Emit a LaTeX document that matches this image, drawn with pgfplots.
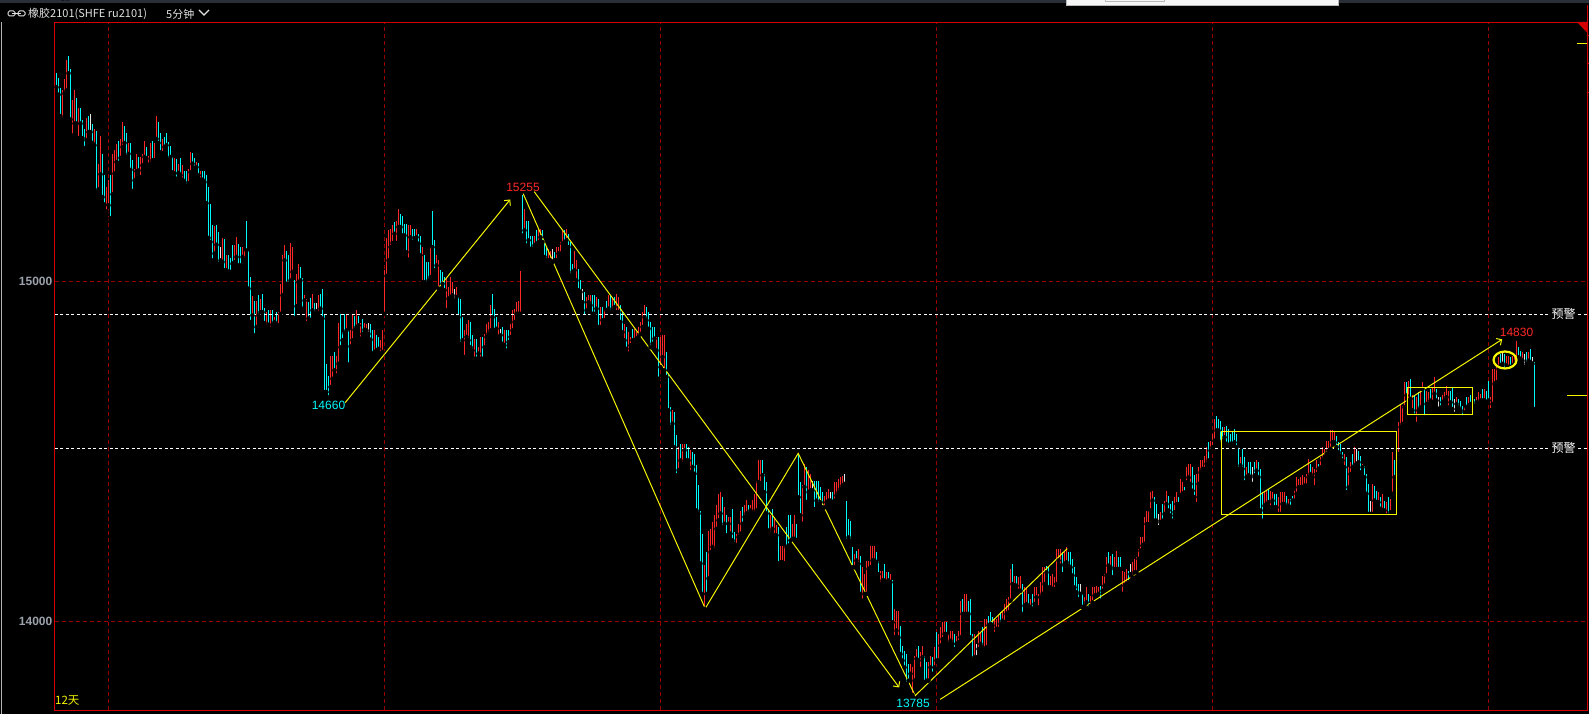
\documentclass[border=0pt]{standalone}
\usepackage{pgfplots}
\pgfplotsset{compat=1.18}
\usepackage{pgfplotstable}
\usetikzlibrary{arrows.meta}
\usepackage{fontspec}
\setmainfont{Liberation Sans}
\newfontfamily\cjk{Noto Sans CJK SC}
\definecolor{upred}{RGB}{255,40,40}
\definecolor{dncyan}{RGB}{0,250,250}
\definecolor{flatwhite}{RGB}{230,230,230}
\definecolor{gridred}{RGB}{150,0,0}
\definecolor{framered}{RGB}{210,0,0}
\definecolor{lineyellow}{RGB}{245,245,0}
\definecolor{ticktext}{RGB}{155,162,172}
\definecolor{titlegray}{RGB}{225,225,225}
\definecolor{topbar}{RGB}{42,46,54}
\pgfplotstableread{
l h c
15571 15613 1
15549 15599 1
15486 15569 1
15476 15564 0
15552 15596 0
15561 15650 0
15612 15664 1
15476 15625 1
15429 15532 0
15464 15564 0
15464 15540 1
15421 15511 0
15464 15511 1
15421 15476 1
15392 15447 1
15415 15481 0
15439 15485 1
15439 15491 2
15407 15464 1
15400 15447 0
15263 15441 1
15271 15346 0
15315 15429 0
15248 15375 1
15226 15312 1
15206 15279 0
15224 15297 0
15186 15312 1
15256 15375 0
15317 15387 0
15351 15405 0
15348 15413 1
15363 15419 0
15395 15470 0
15407 15456 1
15366 15436 1
15375 15407 0
15328 15407 1
15266 15356 1
15297 15331 0
15324 15375 0
15326 15366 1
15307 15367 0
15341 15375 0
15366 15412 0
15361 15395 1
15343 15370 0
15346 15407 0
15356 15412 1
15356 15407 0
15419 15485 0
15407 15470 1
15380 15436 1
15377 15419 0
15395 15426 1
15400 15436 1
15358 15410 1
15366 15398 1
15321 15366 1
15317 15364 0
15302 15361 1
15319 15346 0
15312 15364 1
15299 15341 0
15292 15326 1
15280 15326 1
15289 15331 0
15321 15380 0
15346 15377 1
15334 15364 1
15336 15351 0
15312 15348 1
15299 15326 0
15299 15326 1
15292 15326 1
15230 15312 1
15128 15277 1
15116 15228 1
15062 15165 1
15082 15162 0
15108 15165 1
15052 15145 1
15062 15101 2
15057 15128 0
15033 15126 1
15033 15079 0
15028 15079 1
15028 15070 1
15052 15106 1
15057 15106 0
15072 15130 0
15047 15111 1
15047 15101 1
15072 15101 0
15064 15094 0
15091 15177 1
14979 15091 1
14881 15013 1
14900 14956 0
14842 14944 1
14866 14942 0
14900 14959 1
14910 14949 0
14910 14964 1
14878 14923 1
14866 14910 0
14873 14915 1
14861 14915 0
14873 14915 1
14881 14895 0
14873 14910 1
14871 14910 0
14905 14993 0
14959 15077 0
15062 15106 0
14993 15091 1
14993 15077 1
15003 15114 0
15028 15101 0
14893 15005 1
14927 15023 0
14998 15050 0
15003 15044 1
14920 15010 1
14944 14959 0
14878 14949 0
14891 14940 1
14886 14951 1
14915 14964 0
14905 14937 1
14912 14937 2
14905 14959 0
14920 14964 1
14891 14977 1
14675 14905 1
14675 14758 1
14660 14721 1
14690 14780 0
14714 14780 0
14739 14793 1
14724 14780 0
14758 14878 0
14807 14905 1
14827 14851 1
14848 14905 1
14856 14905 0
14756 14858 1
14809 14858 0
14827 14905 0
14858 14900 1
14866 14915 0
14871 14900 1
14832 14878 0
14846 14891 1
14858 14878 0
14856 14876 0
14846 14878 2
14829 14876 1
14788 14856 1
14793 14858 0
14797 14842 1
14802 14837 1
14788 14829 0
14793 14856 0
14905 15033 0
15016 15128 0
15062 15150 0
15101 15155 0
15113 15167 0
15140 15175 1
15113 15177 0
15160 15212 0
15160 15199 1
15135 15191 1
15135 15170 1
15086 15170 1
15064 15165 0
15130 15165 0
15116 15155 1
15126 15155 1
15130 15155 0
15111 15140 1
15077 15135 1
14998 15101 0
14998 15077 1
14993 15057 1
15003 15057 1
15013 15101 0
15101 15207 1
15033 15121 1
15047 15077 0
14979 15062 0
14979 15033 1
14993 15028 1
14974 15013 1
14915 15013 0
14949 14984 0
14954 15013 0
14959 14998 0
14944 14979 2
14954 14984 0
14895 14954 1
14817 14949 1
14827 14895 1
14778 14856 0
14837 14876 0
14827 14886 0
14807 14881 1
14797 14842 1
14773 14832 0
14773 14832 1
14788 14807 0
14773 14837 0
14773 14837 1
14807 14846 0
14837 14876 0
14846 14881 0
14856 14930 0
14895 14964 1
14856 14920 1
14861 14895 1
14837 14881 0
14842 14861 2
14817 14866 1
14812 14856 0
14797 14856 1
14822 14856 1
14837 14876 0
14856 14915 0
14881 14920 0
14905 14939 0
14905 14944 0
14905 15031 0
15135 15255 1
15150 15214 0
15106 15179 1
15121 15179 1
15096 15135 1
15096 15135 1
15106 15135 0
15111 15150 1
15116 15155 0
15130 15155 0
15116 15150 1
15072 15116 1
15062 15101 1
15062 15096 0
15062 15091 0
15057 15096 2
15062 15086 1
15062 15101 0
15082 15101 0
15082 15116 0
15111 15150 0
15116 15150 1
15121 15155 0
15101 15140 1
15018 15116 1
15028 15052 1
15033 15091 0
15003 15062 0
14974 15037 1
14969 15003 1
14939 14979 2
14895 14969 1
14915 14954 0
14939 14959 0
14930 14959 0
14905 14959 1
14905 14959 1
14920 14954 0
14866 14949 1
14866 14925 0
14886 14925 1
14886 14915 0
14915 14944 1
14920 14959 0
14910 14959 1
14915 14954 0
14925 14954 1
14910 14964 0
14910 14954 0
14881 14930 1
14851 14910 1
14827 14876 0
14802 14866 1
14788 14851 0
14812 14837 0
14827 14861 1
14827 14861 0
14832 14851 0
14837 14866 0
14846 14881 0
14866 14910 0
14895 14930 0
14886 14925 1
14861 14910 1
14807 14881 1
14817 14866 1
14832 14866 1
14797 14837 0
14714 14837 1
14748 14837 0
14778 14842 0
14739 14842 0
14719 14793 1
14621 14729 1
14572 14631 1
14582 14621 0
14513 14616 1
14430 14548 1
14445 14513 0
14474 14523 1
14464 14523 0
14504 14523 0
14474 14523 1
14474 14513 1
14440 14504 0
14455 14499 1
14435 14494 1
14327 14460 1
14318 14401 1
14171 14327 1
14082 14259 1
14038 14166 0
14082 14205 1
14127 14268 0
14205 14273 0
14220 14293 0
14210 14313 0
14273 14342 0
14298 14376 0
14318 14381 0
14278 14366 1
14288 14337 0
14254 14313 1
14288 14308 0
14259 14308 0
14239 14332 1
14229 14264 1
14224 14259 0
14249 14288 0
14259 14327 0
14288 14337 1
14308 14342 0
14318 14357 0
14318 14342 1
14327 14342 0
14318 14357 0
14318 14376 0
14327 14415 0
14411 14474 0
14406 14474 0
14430 14474 1
14381 14435 1
14318 14411 1
14268 14332 1
14259 14313 0
14273 14332 1
14254 14308 0
14254 14283 0
14171 14278 1
14175 14224 0
14175 14224 0
14171 14224 0
14220 14278 1
14224 14313 1
14239 14313 1
14244 14288 0
14244 14313 0
14239 14288 1
14366 14494 1
14313 14411 1
14288 14401 0
14396 14464 0
14352 14455 1
14381 14445 0
14386 14435 0
14386 14415 2
14331 14415 1
14356 14415 1
14346 14415 1
14351 14395 1
14336 14380 1
14336 14371 0
14351 14380 0
14356 14390 0
14356 14380 2
14351 14380 1
14356 14410 0
14371 14410 0
14380 14420 0
14390 14424 0
14400 14429 0
14405 14434 2
14238 14356 1
14248 14302 1
14238 14297 1
14160 14219 1
14160 14199 0
14180 14209 1
14170 14214 0
14082 14194 1
14062 14160 0
14082 14140 0
14082 14180 0
14155 14180 0
14160 14224 0
14180 14224 0
14180 14224 0
14175 14204 1
14140 14180 1
14111 14150 0
14121 14150 0
14121 14170 1
14116 14145 0
14121 14145 1
14116 14140 0
13998 14123 1
13954 14038 0
13974 14033 0
13954 14033 0
13905 13989 1
13886 13930 1
13866 13915 1
13817 13905 1
13827 13876 1
13847 13876 0
13785 13866 0
13827 13900 0
13891 13920 0
13886 13930 1
13861 13910 0
13896 13930 0
13822 13900 1
13827 13881 1
13827 13881 0
13866 13900 0
13847 13896 1
13866 13925 0
13886 13969 1
13886 13964 0
13930 13984 0
13949 13998 0
13964 13998 0
13964 13998 1
13935 13964 0
13944 13974 0
13935 13974 0
13920 13964 1
13935 13959 0
13940 13974 0
13954 14062 0
14023 14067 1
14023 14082 0
14023 14082 0
14023 14062 1
13954 14067 1
13891 13964 1
13896 13964 0
13896 13935 2
13920 13974 0
13935 13969 0
13925 13984 1
13920 14008 0
13925 14008 0
13989 14018 1
13994 14028 1
13989 14013 1
13964 14008 0
13979 14008 0
13979 14018 0
13994 14028 1
14003 14033 0
13998 14052 0
14023 14067 0
14028 14072 0
14062 14155 0
14111 14170 1
14106 14136 0
14106 14136 1
14091 14131 0
14091 14136 0
14023 14111 1
14047 14101 0
14052 14101 0
14047 14082 1
14042 14067 0
14038 14082 1
14052 14101 0
14072 14101 0
14042 14082 0
14072 14116 0
14082 14160 0
14111 14160 0
14145 14165 1
14101 14160 1
14101 14136 0
14096 14140 0
14096 14131 0
14111 14214 0
14180 14214 0
14165 14214 0
14140 14204 1
14170 14209 0
14175 14219 0
14165 14204 1
14160 14204 1
14136 14185 1
14101 14160 1
14087 14131 1
14067 14111 1
14082 14111 2
14042 14082 1
14047 14072 0
14057 14101 0
14038 14082 1
14047 14077 0
14057 14101 0
14077 14101 0
14077 14106 0
14082 14101 0
14062 14106 1
14091 14136 0
14106 14140 0
14136 14189 0
14165 14204 1
14160 14194 0
14131 14199 1
14155 14189 0
14155 14209 0
14155 14189 1
14155 14189 1
14082 14150 0
14106 14145 0
14111 14155 0
14116 14150 1
14140 14170 2
14131 14175 0
14145 14185 0
14145 14189 0
14185 14214 0
14209 14248 0
14224 14248 0
14229 14307 0
14287 14327 0
14287 14327 0
14327 14380 0
14356 14385 0
14297 14366 1
14297 14346 1
14278 14317 2
14292 14322 0
14297 14346 1
14317 14356 0
14346 14385 0
14327 14371 1
14312 14346 1
14297 14356 1
14322 14366 0
14346 14380 0
14346 14366 1
14371 14420 0
14376 14410 0
14380 14395 1
14410 14454 0
14424 14464 0
14405 14464 0
14385 14454 1
14366 14430 1
14346 14434 0
14405 14454 0
14439 14474 0
14449 14474 0
14449 14488 0
14464 14513 0
14474 14527 1
14503 14532 0
14513 14552 0
14532 14596 0
14562 14606 1
14562 14596 1
14523 14591 1
14532 14572 1
14542 14572 0
14523 14576 1
14518 14567 1
14523 14552 1
14523 14557 1
14527 14567 1
14513 14552 1
14449 14513 1
14459 14483 0
14449 14508 1
14410 14483 1
14425 14454 0
14430 14469 1
14425 14469 1
14405 14454 2
14430 14469 1
14444 14474 0
14425 14469 1
14327 14449 1
14297 14381 1
14341 14381 0
14346 14385 0
14351 14390 1
14336 14385 0
14356 14381 0
14336 14376 1
14336 14376 1
14317 14366 0
14317 14381 0
14346 14381 0
14346 14381 0
14336 14371 1
14341 14361 0
14336 14361 1
14356 14371 1
14356 14385 0
14376 14425 0
14395 14420 0
14395 14425 0
14395 14430 0
14400 14425 0
14400 14434 0
14425 14479 0
14434 14464 1
14425 14454 0
14395 14449 0
14434 14474 0
14449 14464 1
14454 14483 0
14474 14513 0
14483 14508 0
14493 14532 0
14503 14532 0
14508 14564 0
14527 14564 0
14527 14562 0
14513 14547 1
14498 14527 1
14488 14523 1
14474 14498 1
14454 14493 0
14381 14483 1
14395 14454 0
14434 14469 0
14454 14493 1
14459 14513 0
14464 14508 2
14469 14503 1
14439 14488 1
14454 14464 0
14425 14459 1
14376 14434 1
14317 14405 1
14317 14356 2
14317 14405 0
14356 14400 1
14351 14385 1
14351 14381 0
14332 14366 1
14327 14376 0
14327 14356 1
14312 14351 0
14312 14366 1
14322 14361 0
14376 14498 0
14425 14474 1
14425 14498 1
14493 14586 0
14572 14640 0
14581 14635 0
14630 14704 0
14665 14704 1
14650 14709 0
14655 14714 1
14621 14665 0
14606 14665 1
14581 14660 0
14621 14674 1
14630 14679 0
14684 14704 0
14601 14689 1
14640 14679 0
14640 14674 0
14650 14684 1
14645 14689 0
14670 14718 0
14650 14684 1
14625 14660 2
14630 14660 1
14645 14665 0
14650 14674 0
14660 14694 0
14630 14679 0
14645 14679 1
14625 14689 1
14611 14655 2
14640 14660 0
14630 14655 1
14621 14650 1
14601 14635 1
14616 14630 0
14630 14660 1
14635 14660 0
14640 14665 1
14635 14650 0
14635 14655 1
14645 14660 0
14640 14674 0
14650 14670 0
14650 14684 1
14650 14684 0
14645 14679 1
14650 14709 1
14621 14660 0
14640 14743 0
14699 14743 0
14704 14758 0
14743 14777 0
14753 14787 1
14758 14797 2
14738 14787 1
14753 14782 0
14748 14782 0
14748 14777 1
14753 14782 0
14758 14787 0
14767 14826 0
14777 14807 1
14772 14797 1
14767 14792 0
14748 14787 2
14758 14792 1
14767 14792 0
14763 14802 1
14758 14777 2
14625 14763 1
}\bars
\pgfplotstablecreatecol[create col/expr={\pgfplotstablerow}]{x}\bars
\begin{document}
\begin{tikzpicture}[x=1pt,y=1pt]
\fill[black] (0,0) rectangle (1589,714);
\fill[topbar] (0,711) rectangle (1589,714);
\fill[gray!8] (1066,708) rectangle (1339,714);
\draw[gray!55] (1066.5,714) -- (1066.5,708.5) -- (1338.5,708.5) -- (1338.5,714);
\draw[gray!55] (1105.5,714) -- (1105.5,712.5) -- (1164.5,712.5) -- (1164.5,714);
\draw[gray!60, line width=1pt] (1.5,0) -- (1.5,692);
\begin{axis}[
  at={(54.5pt,3.5pt)}, anchor=south west,
  scale only axis, width=1533pt, height=688pt,
  xmin=-1, xmax=765.5, ymin=13739.3, ymax=15761.1,
  axis line style={draw=framered, line width=1pt},
  xtick={26,164,302,440,578,716},
  ytick={14000,15000},
  xticklabels={}, yticklabels={},
  major tick length=0pt,
  grid=major,
  major grid style={draw=gridred, line width=0.9pt, dash pattern=on 4pt off 3pt},
]
\addplot[only marks, mark=none, restrict expr to domain={\thisrow{c}}{1.5:2.5},
  error bars/.cd, y dir=plus, y explicit, error mark=none,
  error bar style={draw=flatwhite, line width=1.15pt, solid}]
  table[x=x, y=l, y error expr=\thisrow{h}-\thisrow{l}] {\bars};
\addplot[only marks, mark=none, restrict expr to domain={\thisrow{c}}{-0.5:0.5},
  error bars/.cd, y dir=plus, y explicit, error mark=none,
  error bar style={draw=upred, line width=1.15pt, solid}]
  table[x=x, y=l, y error expr=\thisrow{h}-\thisrow{l}] {\bars};
\addplot[only marks, mark=none, restrict expr to domain={\thisrow{c}}{0.5:1.5},
  error bars/.cd, y dir=plus, y explicit, error mark=none,
  error bar style={draw=dncyan, line width=1.15pt, solid}]
  table[x=x, y=l, y error expr=\thisrow{h}-\thisrow{l}] {\bars};
% warning levels
\addplot[white, line width=1pt, dash pattern=on 3pt off 2.5pt] coordinates {(-1,14903) (765.5,14903)};
\addplot[white, line width=1pt, dash pattern=on 3pt off 2.5pt] coordinates {(-1,14509) (765.5,14509)};
% drawn trend lines
\addplot[lineyellow, line width=1pt, -{Straight Barb[length=4pt,width=8pt]}] coordinates {(144.35,14644) (226.85,15241)};
\addplot[lineyellow, line width=1pt] coordinates {(233.35,15258) (324.35,14039) (370.85,14495) (429.35,13783) (505.35,14215)};
\addplot[lineyellow, line width=1pt, -{Straight Barb[length=4pt,width=8pt]}] coordinates {(238.85,15264) (421.35,13807)};
\addplot[lineyellow, line width=1pt, -{Straight Barb[length=4pt,width=8pt]}] coordinates {(441.85,13772) (722.85,14830)};
\end{axis}
% boxes and ellipse
\draw[lineyellow, line width=1pt] (1221.5,282.5) rectangle (1396.5,199.5);
\draw[lineyellow, line width=1pt] (1407.5,326.5) rectangle (1472.5,299.5);
\draw[lineyellow, line width=2.2pt] (1505,354) ellipse (11.5 and 8.5);
% right side marks
\fill[framered] (1577,692) -- (1587.5,692) -- (1587.5,681) -- cycle;
\draw[framered, line width=1pt] (1587,692) -- (1587,709);
\foreach \yy in {678.5,650.5,621.5} {\draw[framered, line width=1pt] (1587,\yy) -- (1589,\yy);}
\draw[lineyellow, line width=1pt] (1577,670.5) -- (1587,670.5);
\draw[lineyellow, line width=1pt] (1567,318.5) -- (1587,318.5);
% labels
\node[fill=black, text=white, font=\cjk\fontsize{12}{12}\selectfont, inner sep=1pt] at (1563.5,400) {预警};
\node[fill=black, text=white, font=\cjk\fontsize{12}{12}\selectfont, inner sep=1pt] at (1563.5,266) {预警};
\node[anchor=east, text=ticktext, font=\bfseries\fontsize{12}{13}\selectfont, inner sep=0pt] at (52.5,433) {15000};
\node[anchor=east, text=ticktext, font=\bfseries\fontsize{12}{13}\selectfont, inner sep=0pt] at (52.5,93) {14000};
\node[text=upred, font=\fontsize{12}{12}\selectfont, inner sep=0pt] at (523,527) {15255};
\node[text=dncyan, font=\fontsize{12}{12}\selectfont, inner sep=0pt] at (328.5,309) {14660};
\node[text=dncyan, font=\fontsize{12}{12}\selectfont, inner sep=0pt] at (913,11) {13785};
\node[text=upred, font=\fontsize{12}{12}\selectfont, inner sep=0pt] at (1516.5,382) {14830};
\node[anchor=west, text=lineyellow, font=\cjk\fontsize{11.5}{12}\selectfont, inner sep=0pt] at (55,13) {12天};
% title bar
\draw[titlegray, line width=1pt, rounded corners=1.5pt] (8,698) rectangle (15,703);
\draw[titlegray, line width=1pt, rounded corners=1.5pt] (18,698) rectangle (25,703);
\draw[titlegray, line width=1pt] (12,700.5) -- (21,700.5);
\node[anchor=west, text=titlegray, font=\cjk\fontsize{11}{12}\selectfont, inner sep=0pt] at (28,700) {橡胶2101(SHFE ru2101)};
\node[anchor=west, text=titlegray, font=\cjk\fontsize{11}{12}\selectfont, inner sep=0pt] at (166,700) {5分钟};
\draw[titlegray, line width=1.3pt] (199,704) -- (204,699) -- (209,704);
\pgfresetboundingbox
\useasboundingbox (0,0) rectangle (1589,714);
\end{tikzpicture}
\end{document}
